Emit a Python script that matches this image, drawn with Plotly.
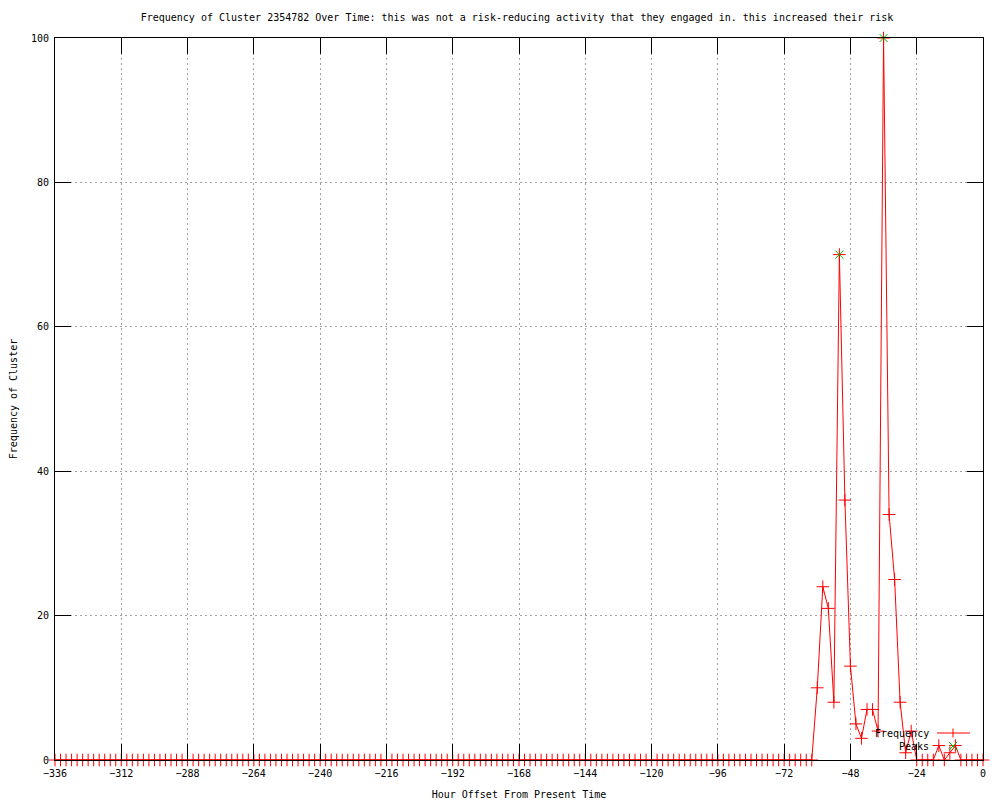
import plotly.graph_objects as go

# Hour offsets (every 2 hours from -336 to 0)
hours = [
    -336, -334, -332, -330, -328, -326, -324, -322, -320, -318, -316, -314, -312,
    -310, -308, -306, -304, -302, -300, -298, -296, -294, -292, -290, -288,
    -286, -284, -282, -280, -278, -276, -274, -272, -270, -268, -266, -264,
    -262, -260, -258, -256, -254, -252, -250, -248, -246, -244, -242, -240,
    -238, -236, -234, -232, -230, -228, -226, -224, -222, -220, -218, -216,
    -214, -212, -210, -208, -206, -204, -202, -200, -198, -196, -194, -192,
    -190, -188, -186, -184, -182, -180, -178, -176, -174, -172, -170, -168,
    -166, -164, -162, -160, -158, -156, -154, -152, -150, -148, -146, -144,
    -142, -140, -138, -136, -134, -132, -130, -128, -126, -124, -122, -120,
    -118, -116, -114, -112, -110, -108, -106, -104, -102, -100, -98, -96,
    -94, -92, -90, -88, -86, -84, -82, -80, -78, -76, -74, -72,
    -70, -68, -66, -64, -62, -60, -58, -56, -54, -52, -50, -48,
    -46, -44, -42, -40, -38, -36, -34, -32, -30, -28, -26, -24,
    -22, -20, -18, -16, -14, -12, -10, -8, -6, -4, -2, 0,
]

frequency = [
    0, 0, 0, 0, 0, 0, 0, 0, 0, 0, 0, 0, 0,
    0, 0, 0, 0, 0, 0, 0, 0, 0, 0, 0, 0,
    0, 0, 0, 0, 0, 0, 0, 0, 0, 0, 0, 0,
    0, 0, 0, 0, 0, 0, 0, 0, 0, 0, 0, 0,
    0, 0, 0, 0, 0, 0, 0, 0, 0, 0, 0, 0,
    0, 0, 0, 0, 0, 0, 0, 0, 0, 0, 0, 0,
    0, 0, 0, 0, 0, 0, 0, 0, 0, 0, 0, 0,
    0, 0, 0, 0, 0, 0, 0, 0, 0, 0, 0, 0,
    0, 0, 0, 0, 0, 0, 0, 0, 0, 0, 0, 0,
    0, 0, 0, 0, 0, 0, 0, 0, 0, 0, 0, 0,
    0, 0, 0, 0, 0, 0, 0, 0, 0, 0, 0, 0,
    0, 0, 0, 0, 0, 10, 24, 21, 8, 70, 36, 13,
    5, 3, 7, 7, 4, 100, 34, 25, 8, 1, 4, 0,
    0, 0, 0, 2, 0, 1, 2, 0, 0, 0, 0, 0,
]

peak_hours = [-52, -36]
peak_values = [70, 100]

x_tick_vals = [-336, -312, -288, -264, -240, -216, -192, -168, -144, -120, -96, -72, -48, -24, 0]
y_tick_vals = [0, 20, 40, 60, 80, 100]

title_text = ("Frequency of Cluster 2354782 Over Time: this was not a risk-reducing "
              "activity that they engaged in. this increased their risk")

FONT = "DejaVu Sans Mono"
RED = "#ff0000"
GREEN = "#00c000"

fig = go.Figure()
fig.add_trace(go.Scatter(
    x=hours, y=frequency, name="Frequency", mode="lines+markers",
    line=dict(color=RED, width=1),
    marker=dict(symbol="cross-thin-open", size=9, color=RED, line=dict(color=RED, width=1)),
    cliponaxis=False, showlegend=False,
))
fig.add_trace(go.Scatter(
    x=peak_hours, y=peak_values, name="Peaks", mode="markers",
    marker=dict(symbol="x-thin-open", size=8, color=GREEN, line=dict(color=GREEN, width=1)),
    cliponaxis=False, showlegend=False,
))

axis_common = dict(
    showline=True, linecolor="black", linewidth=1, mirror="ticks",
    ticks="inside", ticklen=16, tickcolor="black", tickwidth=1,
    showgrid=True, gridcolor="#a0a0a0", griddash="2px,3px", gridwidth=1,
    zeroline=False, automargin=False,
    tickfont=dict(family=FONT, size=10, color="black"),
)

fig.update_xaxes(
    range=[-336, 0], tickvals=x_tick_vals, ticklabelstandoff=4, **axis_common,
    title=dict(text="Hour Offset From Present Time", font=dict(family=FONT, size=10, color="black"), standoff=14),
)
fig.update_yaxes(
    range=[0, 100], tickvals=y_tick_vals, ticklabelstandoff=3, **axis_common,
    title=dict(text="Frequency of Cluster", font=dict(family=FONT, size=10, color="black"), standoff=11),
)

# gnuplot-style key (text right-aligned, sample to the right), bottom-right inside the plot
def px_x(p):
    return (p - 55) / 928.0

def px_y(p):
    return (760 - p) / 722.0

key_shapes = [
    # Frequency sample line with a "+" in the middle
    dict(type="line", xref="paper", yref="paper", x0=px_x(937), x1=px_x(970), y0=px_y(733), y1=px_y(733),
         line=dict(color=RED, width=1)),
    dict(type="line", xref="paper", yref="paper", x0=px_x(953), x1=px_x(953), y0=px_y(728.5), y1=px_y(737.5),
         line=dict(color=RED, width=1)),
    # Peaks sample "x"
    dict(type="line", xref="paper", yref="paper", x0=px_x(949), x1=px_x(957), y0=px_y(742), y1=px_y(750),
         line=dict(color=GREEN, width=1)),
    dict(type="line", xref="paper", yref="paper", x0=px_x(949), x1=px_x(957), y0=px_y(750), y1=px_y(742),
         line=dict(color=GREEN, width=1)),
]
key_annotations = [
    dict(text="Frequency", xref="paper", yref="paper", x=px_x(931), y=px_y(733), xanchor="right",
         yanchor="middle", showarrow=False, font=dict(family=FONT, size=10, color="black")),
    dict(text="Peaks", xref="paper", yref="paper", x=px_x(931), y=px_y(746), xanchor="right",
         yanchor="middle", showarrow=False, font=dict(family=FONT, size=10, color="black")),
]

fig.update_layout(
    width=1000, height=800,
    margin=dict(l=55, r=17, t=38, b=40, autoexpand=False),
    plot_bgcolor="white", paper_bgcolor="white",
    title=dict(text=title_text, x=0.517, xanchor="center", y=0.978, yanchor="middle",
               font=dict(family=FONT, size=10, color="black")),
    font=dict(family=FONT, size=10, color="black"),
    showlegend=False,
    shapes=key_shapes,
    annotations=key_annotations,
)

fig.write_html("out.html", config={"displayModeBar": False},
               post_script="document.body.style.margin='0';")
